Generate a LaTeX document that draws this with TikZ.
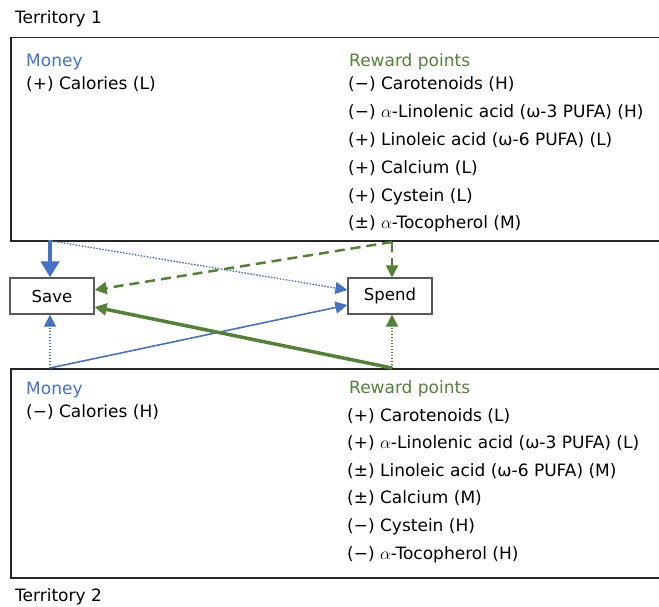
\documentclass[tikz,border=0pt]{standalone}
\usepackage{fontspec}
\setmainfont{DejaVu Sans}
\usetikzlibrary{arrows.meta,calc,positioning}
\definecolor{moneyblue}{HTML}{4472C4}
\definecolor{rewardgreen}{HTML}{548235}
\tikzset{
    terrbox/.style={draw=black!85, line width=1.5pt, anchor=north west,
    minimum width=700pt, inner sep=0pt},
    actbox/.style={draw=black!65, line width=1.3pt, fill=white, minimum width=84pt,
    minimum height=36pt, inner sep=0pt, font=\fontsize{16.5}{19}\selectfont},
    txt/.style={anchor=west, inner sep=0pt, text height=12pt, text depth=0pt,
    font=\fontsize{17}{20}\selectfont},
    head/.style={txt, text=#1}
}

\begin{document}
\begin{tikzpicture}[x=1pt, y=-1pt,
        tip/.style={-{Triangle[length=12pt,width=12pt]}},
        bigtip/.style={-{Triangle[length=16pt,width=18pt]}},
        dots/.style={dash pattern=on 1.5pt off 1.5pt}
      ]
  \clip (0,0) rectangle (659,607);

  % territories
  \node[txt] (t1label) at (15,18) {Territory 1};
  \node[terrbox, minimum height=203pt] (terr1) at (10,37) {};
  \node[txt] (t2label) at (15,595) {Territory 2};
  \node[terrbox, minimum height=209pt] (terr2) at (10,368) {};

  \node[head=moneyblue] (m1) at (26,61) {Money};
  \node[txt] (m1-1) at (26,84) {(+) Calories (L)};
  \node[head=rewardgreen] (r1) at (349,61) {Reward points};
  \foreach \t [count=\i] in {
      (−) Carotenoids (H),
      (−) $\alpha$-Linolenic acid (ω-3 PUFA) (H),
      (+) Linoleic acid (ω-6 PUFA) (L),
      (+) Calcium (L),
      (+) Cystein (L),
      (±) $\alpha$-Tocopherol (M)}
    \node[txt] (r1-\i) at (348,{84+27.8*(\i-1)}) {\t};

  \node[head=moneyblue] (m2) at (26,388) {Money};
  \node[txt] (m2-1) at (26,411) {(−) Calories (H)};
  \node[head=rewardgreen] (r2) at (349,387) {Reward points};
  \foreach \t [count=\i] in {
      (+) Carotenoids (L),
      (+) $\alpha$-Linolenic acid (ω-3 PUFA) (L),
      (±) Linoleic acid (ω-6 PUFA) (M),
      (±) Calcium (M),
      (−) Cystein (H),
      (−) $\alpha$-Tocopherol (H)}
    \node[txt] (r2-\i) at (347,{415+27.6*(\i-1)}) {\t};

  % decisions
  \node[actbox] (save) at (52,296) {Save};
  \node[actbox] (spend) at (390,296) {Spend};

  \coordinate (t1money) at (50,240);
  \coordinate (t1reward) at (392,242);
  \coordinate (t2money) at (50,368);
  \coordinate (t2reward) at (392,368);

  \draw[bigtip, moneyblue, line width=4pt] (t1money) -- (t1money |- save.north);
  \draw[tip, moneyblue, line width=1.3pt, dots] ($(t1money)+(2,1)$) -- ($(spend.west)+(0,-6)$);
  \draw[tip, rewardgreen, line width=2.5pt, dash pattern=on 10pt off 6pt]
    (t1reward) -- ($(save.east)+(0,-6)$);
  \draw[tip, rewardgreen, line width=2.5pt, dash pattern=on 10pt off 6pt]
    (t1reward) -- (t1reward |- spend.north);

  \draw[tip, moneyblue, line width=1.3pt, dots] (t2money) -- (t2money |- save.south);
  \draw[tip, moneyblue, line width=1.6pt] (t2money) -- ($(spend.west)+(0,9)$);
  \draw[tip, rewardgreen, line width=3.5pt] (t2reward) -- ($(save.east)+(0,11)$);
  \draw[tip, rewardgreen, line width=2pt, dots] (t2reward) -- (t2reward |- spend.south);
\end{tikzpicture}
\end{document}
